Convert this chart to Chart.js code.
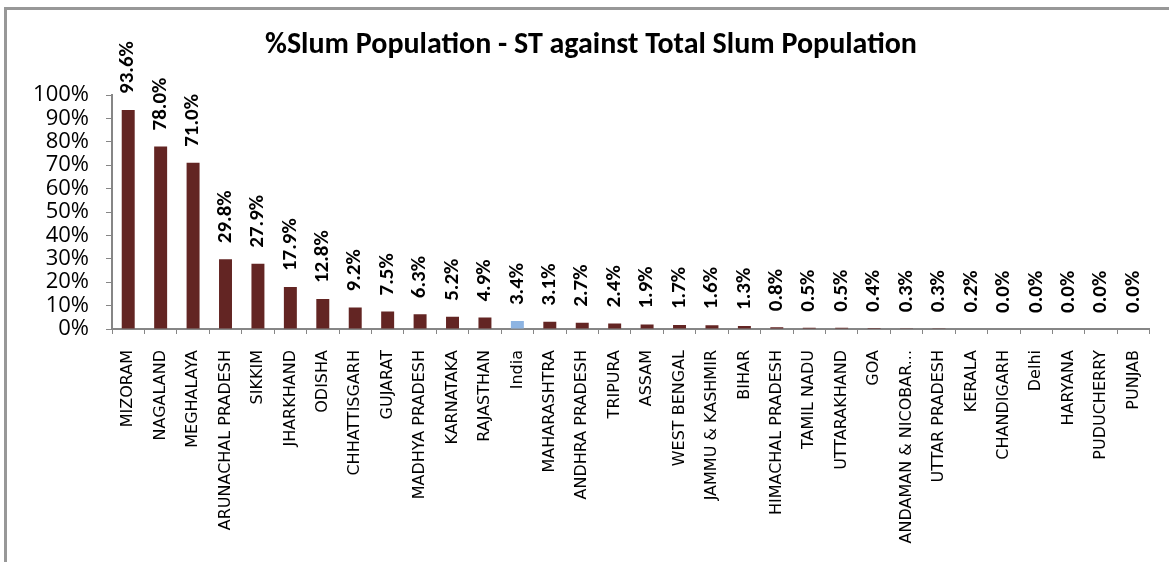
<!DOCTYPE html>
<html>
<head>
<meta charset="utf-8">
<script src="https://cdn.jsdelivr.net/npm/chart.js@4"></script>
<style>
  html, body { margin: 0; padding: 0; background: #fff; overflow: hidden; }
  #frame { position: absolute; left: 4px; top: 7px; width: 1300px; height: 700px;
           border-left: 3px solid #989898; border-top: 3px solid #989898; }
  #chart { position: absolute; left: 0; top: 0; }
  .warm { position: absolute; left: -2000px; top: 0; visibility: hidden; }
</style>
</head>
<body>
<div id="frame"></div>
<span class="warm" style="font: 16px 'DejaVu Sans'">ARUNACHAL PRADESH</span>
<span class="warm" style="font: 22px 'Open Sans'">100%</span>
<span class="warm" style="font: bold 30px Carlito">Population</span>
<canvas id="chart" width="1169" height="562"></canvas>
<script>
const states = [
  'MIZORAM', 'NAGALAND', 'MEGHALAYA', 'ARUNACHAL PRADESH', 'SIKKIM', 'JHARKHAND',
  'ODISHA', 'CHHATTISGARH', 'GUJARAT', 'MADHYA PRADESH', 'KARNATAKA', 'RAJASTHAN',
  'India', 'MAHARASHTRA', 'ANDHRA PRADESH', 'TRIPURA', 'ASSAM', 'WEST BENGAL',
  'JAMMU & KASHMIR', 'BIHAR', 'HIMACHAL PRADESH', 'TAMIL NADU', 'UTTARAKHAND', 'GOA',
  'ANDAMAN & NICOBAR...', 'UTTAR PRADESH', 'KERALA', 'CHANDIGARH', 'Delhi', 'HARYANA',
  'PUDUCHERRY', 'PUNJAB',
];
const stShare = [
  93.6, 78.0, 71.0, 29.8, 27.9, 17.9, 12.8, 9.2, 7.5, 6.3, 5.2, 4.9,
  3.4, 3.1, 2.7, 2.4, 1.9, 1.7, 1.6, 1.3, 0.8, 0.5, 0.5, 0.4,
  0.3, 0.3, 0.2, 0.0, 0.0, 0.0, 0.0, 0.0,
];
const yTicks = [0, 10, 20, 30, 40, 50, 60, 70, 80, 90, 100];

const barColors = states.map((s) => (s === 'India' ? '#8db4e2' : '#632523'));

Chart.defaults.font.family = "'DejaVu Sans'";

// value labels standing upright above each bar
const barLabels = {
  id: 'barLabels',
  afterDatasetsDraw(chart) {
    const { ctx } = chart;
    const meta = chart.getDatasetMeta(0);
    ctx.save();
    ctx.font = 'bold 21px Carlito';
    ctx.fillStyle = '#000';
    ctx.textAlign = 'left';
    ctx.textBaseline = 'middle';
    meta.data.forEach((bar, i) => {
      ctx.save();
      ctx.translate(bar.x, bar.y - 16);
      ctx.rotate(-Math.PI / 2);
      ctx.fillText(stShare[i].toFixed(1) + '%', 0, 0);
      ctx.restore();
    });
    ctx.restore();
  },
};

const config = {
  type: 'bar',
  data: {
    labels: states,
    datasets: [
      {
        data: stShare,
        backgroundColor: barColors,
        barPercentage: 0.4,
        categoryPercentage: 1,
      },
    ],
  },
  options: {
    responsive: false,
    animation: false,
    layout: { padding: { left: 29, right: 16, top: 0, bottom: 0 } },
    plugins: {
      legend: { display: false },
      tooltip: { enabled: false },
      title: {
        display: true,
        text: '%Slum Population - ST against Total Slum Population',
        color: '#000',
        font: { family: 'Carlito', size: 30, weight: 'bold' },
        padding: { top: 27, bottom: 32 },
      },
    },
    scales: {
      x: {
        grid: { drawOnChartArea: false, color: '#868686', tickLength: 5, offset: true },
        border: { color: '#868686', width: 2 },
        ticks: {
          color: '#000',
          font: { family: "'DejaVu Sans'", size: 16 },
          minRotation: 90,
          maxRotation: 90,
          autoSkip: false,
          padding: 16,
        },
        afterFit(scale) { scale.height = 233; },
      },
      y: {
        min: 0,
        max: 100,
        afterBuildTicks(scale) { scale.ticks = yTicks.map((v) => ({ value: v })); },
        grid: { drawOnChartArea: false, color: '#868686', tickLength: 6 },
        border: { color: '#868686', width: 2 },
        ticks: {
          color: '#000',
          font: { family: "'Open Sans'", size: 22 },
          padding: 17,
          autoSkip: false,
          callback: (v) => v + '%',
        },
        afterFit(scale) { scale.width = 83; },
      },
    },
  },
  plugins: [barLabels],
};

const chart = new Chart(document.querySelector('#chart'), config);

// local fonts can arrive a moment late: redraw once they are in
const redraw = () => chart.update('none');
Promise.all([
  document.fonts.load("16px 'DejaVu Sans'"),
  document.fonts.load("22px 'Open Sans'"),
  document.fonts.load('bold 30px Carlito'),
]).then(redraw, redraw);
setTimeout(redraw, 150);
setTimeout(redraw, 600);
</script>
</body>
</html>
